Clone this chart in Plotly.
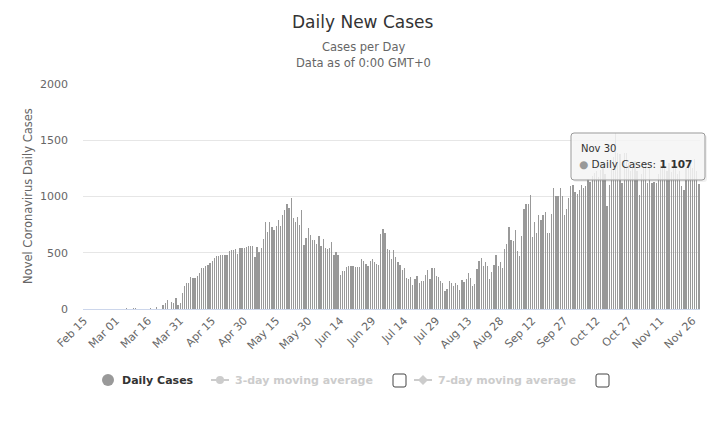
import plotly.graph_objects as go
import pandas as pd

# ---------------- data ----------------
start_date = "2020-02-15"
daily_cases = (
    [0] * 20
    + [6, 0, 0, 6, 6, 0, 0, 0, 0, 0, 0, 5, 0, 0, 15, 0, 0]
    + [35, 50, 80, 0, 60, 53, 100, 40, 50, 143, 205, 229, 229, 286, 275,
       280, 293, 322, 364, 364, 385, 390, 410, 426, 452, 473, 473, 477, 479, 479, 479]
    + [518, 524, 527, 533, 491, 539, 545, 545, 551, 556, 562, 562, 461, 548, 503,
       542, 622, 777, 682, 777, 729, 702, 741, 792, 741, 836, 878, 937, 896, 991]
    + [810, 777, 816, 748, 881, 570, 630, 720, 660, 610, 610, 575, 650, 560, 625,
       540, 535, 540, 598, 479, 509, 482, 300]
    + [338, 338, 371, 383, 383, 383, 377, 371, 371, 442, 427, 400, 383, 427, 442,
       421, 400, 392]
    + [670, 714, 679, 533, 527, 443, 527, 464, 414, 390, 348, 366, 277, 271, 283,
       211, 265, 295, 229, 247, 247, 304, 348, 268, 366, 366]
    + [295, 283, 253, 232, 161, 179, 250, 232, 205, 232, 214, 173, 259, 241, 268,
       321, 277, 208, 226, 354, 426, 452, 384, 420, 384, 268, 330, 390, 479, 384,
       420, 363, 533, 574, 729, 613, 607, 705, 515, 467, 646, 887, 931, 931, 1009]
    + [640, 775, 680, 836, 790, 835, 864, 675, 675, 843, 1074, 1003, 1003, 1074,
       1003, 835, 890, 986, 1092]
    + [1100, 1042, 1021, 1057, 1100, 1074, 1092, 1158, 1128, 1180, 1210, 1231,
       1170, 1240, 1290, 1200, 915, 1100, 1250, 1350, 1565, 1390, 1380, 1119,
       1390, 1390, 1300, 1230, 1260, 1320, 1230, 1012, 1200, 1250, 1300, 1119,
       1250, 1119, 1130, 1119, 1200, 1280, 1300, 1270, 1230, 1300, 1220, 1250,
       1300, 1200, 1230, 1090, 1057, 1250, 1300, 1280, 1250, 1330, 1230, 1107]
)
x_tick_labels = ["Feb 15", "Mar 01", "Mar 16", "Mar 31", "Apr 15", "Apr 30",
                 "May 15", "May 30", "Jun 14", "Jun 29", "Jul 14", "Jul 29",
                 "Aug 13", "Aug 28", "Sep 12", "Sep 27", "Oct 12", "Oct 27",
                 "Nov 11", "Nov 26"]
y_tick_values = [0, 500, 1000, 1500, 2000]
tooltip_date = "Nov 30"
tooltip_value = "1 107"

dates = pd.date_range(start_date, periods=len(daily_cases), freq="D")
tick_dates = dates[::15][:len(x_tick_labels)]

# ---------------- layout helpers ----------------
W, H = 727, 431
L, R, T, B = 83, 27, 84, 122
PW, PH = W - L - R, H - T - B
FONT = "DejaVu Sans"


def px(x):
    return (x - L) / PW


def py(y):
    return (H - B - y) / PH


BAR = "#999999"
fig = go.Figure()
fig.add_trace(go.Bar(
    x=dates, y=daily_cases, name="Daily Cases",
    # alpha just below 1 -> plotly rounds bar edges to whole pixels
    # instead of expanding thin bars (keeps the thin white gaps visible)
    marker=dict(color="rgba(153,153,153,0.999)", line=dict(width=0)),
    width=0.6 * 86400000, hoverinfo="skip", showlegend=False,
))

day = pd.Timedelta(hours=12)
fig.update_layout(
    width=W, height=H,
    margin=dict(l=L, r=R, t=T, b=B, pad=0),
    paper_bgcolor="white", plot_bgcolor="white",
    font=dict(family=FONT, color="#666666", size=11),
    bargap=0,
    xaxis=dict(
        type="date", range=[dates[0] - day, dates[-1] + day],
        tickmode="array", tickvals=tick_dates, ticktext=x_tick_labels,
        tickangle=-45, tickfont=dict(size=11, color="#666666", family=FONT),
        showgrid=False, showline=True, linecolor="#ccd6eb", linewidth=1,
        ticks="", zeroline=False, fixedrange=True,
    ),
    yaxis=dict(
        range=[0, 2000], tickmode="array", tickvals=y_tick_values,
        gridcolor="#e6e6e6", gridwidth=1, zeroline=False, showline=False,
        ticks="", ticklabelstandoff=14, fixedrange=True,
        tickfont=dict(size=11, color="#666666", family=FONT),
    ),
)

ann = []
# titles
ann.append(dict(text="Daily New Cases", x=px(363), y=py(22), xref="paper", yref="paper",
                showarrow=False, font=dict(size=17, color="#333333", family=FONT),
                xanchor="center", yanchor="middle"))
ann.append(dict(text="Cases per Day", x=px(363), y=py(47), xref="paper", yref="paper",
                showarrow=False, font=dict(size=11.5, color="#666666", family=FONT),
                xanchor="center", yanchor="middle"))
ann.append(dict(text="Data as of 0:00 GMT+0", x=px(363), y=py(63), xref="paper", yref="paper",
                showarrow=False, font=dict(size=11.5, color="#666666", family=FONT),
                xanchor="center", yanchor="middle"))
# y axis title
ann.append(dict(text="Novel Coronavirus Daily Cases", x=px(28), y=py(196), xref="paper",
                yref="paper", showarrow=False, textangle=-90,
                font=dict(size=11.5, color="#666666", family=FONT),
                xanchor="center", yanchor="middle"))

shapes = []
# ---------------- legend ----------------
LY = 380
shapes.append(dict(type="circle", xref="paper", yref="paper",
                   x0=px(102), x1=px(114), y0=py(LY + 6), y1=py(LY - 6),
                   fillcolor=BAR, line=dict(width=0)))
ann.append(dict(text="<b>Daily Cases</b>", x=px(120), y=py(LY), xref="paper", yref="paper",
                showarrow=False, xanchor="left", yanchor="middle",
                font=dict(size=11, color="#333333", family=FONT)))
GREY = "#cccccc"
# 3-day symbol
shapes.append(dict(type="line", xref="paper", yref="paper",
                   x0=px(211), x1=px(229), y0=py(LY), y1=py(LY),
                   line=dict(color=GREY, width=2)))
shapes.append(dict(type="circle", xref="paper", yref="paper",
                   x0=px(216), x1=px(224), y0=py(LY + 4), y1=py(LY - 4),
                   fillcolor=GREY, line=dict(width=0)))
ann.append(dict(text="<b>3-day moving average</b>", x=px(233), y=py(LY), xref="paper",
                yref="paper", showarrow=False, xanchor="left", yanchor="middle",
                font=dict(size=11, color=GREY, family=FONT)))
# 7-day symbol
shapes.append(dict(type="line", xref="paper", yref="paper",
                   x0=px(414), x1=px(432), y0=py(LY), y1=py(LY),
                   line=dict(color=GREY, width=2)))
shapes.append(dict(type="path", xref="paper", yref="paper",
                   path=(f"M {px(423)},{py(LY - 5)} L {px(428)},{py(LY)} "
                         f"L {px(423)},{py(LY + 5)} L {px(418)},{py(LY)} Z"),
                   fillcolor=GREY, line=dict(width=0)))
ann.append(dict(text="<b>7-day moving average</b>", x=px(436), y=py(LY), xref="paper",
                yref="paper", showarrow=False, xanchor="left", yanchor="middle",
                font=dict(size=11, color=GREY, family=FONT)))


def rounded_rect(x0, y0, x1, y1, r):
    # pixel coords -> paper path with rounded corners
    return (f"M {px(x0 + r)},{py(y0)} L {px(x1 - r)},{py(y0)} "
            f"Q {px(x1)},{py(y0)} {px(x1)},{py(y0 + r)} "
            f"L {px(x1)},{py(y1 - r)} Q {px(x1)},{py(y1)} {px(x1 - r)},{py(y1)} "
            f"L {px(x0 + r)},{py(y1)} Q {px(x0)},{py(y1)} {px(x0)},{py(y1 - r)} "
            f"L {px(x0)},{py(y0 + r)} Q {px(x0)},{py(y0)} {px(x0 + r)},{py(y0)} Z")


for cx in (393, 596):
    shapes.append(dict(type="path", xref="paper", yref="paper",
                       path=rounded_rect(cx, LY - 6, cx + 13, LY + 7, 2),
                       fillcolor="white", line=dict(color="#444444", width=1)))

# ---------------- tooltip ----------------
shapes.append(dict(type="path", xref="paper", yref="paper",
                   path=rounded_rect(573, 135, 707, 182, 3),
                   fillcolor="rgba(0,0,0,0.06)", line=dict(width=0)))
shapes.append(dict(type="path", xref="paper", yref="paper",
                   path=rounded_rect(571, 133, 705, 180, 3),
                   fillcolor="rgba(247,247,247,0.85)", line=dict(color=BAR, width=1)))
ann.append(dict(text=tooltip_date, x=px(579), y=py(148), xref="paper", yref="paper",
                showarrow=False, xanchor="left", yanchor="middle",
                font=dict(size=10, color="#333333", family=FONT)))
ann.append(dict(text=f"<span style='color:{BAR}'>●</span> Daily Cases: <b>{tooltip_value}</b>",
                x=px(577), y=py(164), xref="paper", yref="paper",
                showarrow=False, xanchor="left", yanchor="middle",
                font=dict(size=10.5, color="#333333", family=FONT)))

fig.update_layout(annotations=ann, shapes=shapes)
fig.write_html("out.html", config={"displayModeBar": False},
               post_script="document.body.style.margin='0px';")
